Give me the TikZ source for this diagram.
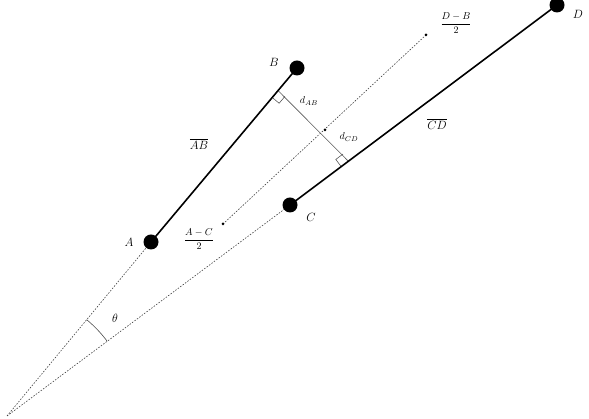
\documentclass[tikz,border=0pt]{standalone}
\usetikzlibrary{calc}
\begin{document}
\begin{tikzpicture}[x=1pt,y=1pt,
  seg/.style={line width=1.6pt,black},
  guide/.style={dash pattern=on 1.5pt off 1.5pt,line width=0.6pt,black!75},
  perp/.style={line width=0.6pt,black!65},
  ramark/.style={line width=0.5pt,black!75},
  bigdot/.style={circle,fill=black,inner sep=0pt,minimum size=15pt},
  smalldot/.style={circle,fill=black,inner sep=0pt,minimum size=3pt},
  lab/.style={font=\large},
  slab/.style={font=\normalsize}]
\useasboundingbox (0,0) rectangle (589,419);
\coordinate (O) at (7,3);
\coordinate (A) at (151,177);
\coordinate (B) at (297,351);
\coordinate (C) at (290,214);
\coordinate (D) at (557,414);
\coordinate (P) at (325,289);
\coordinate (M1) at (223,195);
\coordinate (M2) at (426,384);
\coordinate (F1) at ($(A)!(P)!(B)$);
\coordinate (F2) at ($(C)!(P)!(D)$);
% guides
\draw[guide] (O) -- (A);
\draw[guide] (O) -- (C);
\draw[guide] (M1) -- (M2);
% perpendicular
\draw[perp] (F1) -- (F2);
% right angle marks
\coordinate (a1) at ($(F1)!9pt!(A)$);
\coordinate (p1) at ($(F1)!9pt!(P)$);
\draw[ramark] (a1) -- ($(a1)+(p1)-(F1)$) -- (p1);
\coordinate (a2) at ($(F2)!9pt!(C)$);
\coordinate (p2) at ($(F2)!9pt!(P)$);
\draw[ramark] (a2) -- ($(a2)+(p2)-(F2)$) -- (p2);
% angle arc
\draw[line width=0.6pt,black!70] ($(O)!125pt!(A)$) arc[start angle=50.4,end angle=36.7,radius=125];
% segments
\draw[seg] (A) -- (B);
\draw[seg] (C) -- (D);
% dots
\node[bigdot] (nA) at (A) {};
\node[bigdot] (nB) at (B) {};
\node[bigdot] (nC) at (C) {};
\node[bigdot] (nD) at (D) {};
\node[smalldot] (nP) at (P) {};
\node[smalldot] (nM1) at (M1) {};
\node[smalldot] (nM2) at (M2) {};
% labels
\node[lab] (lA) at (129,177) {$A$};
\node[lab] (lB) at (274,357) {$B$};
\node[lab] (lC) at (311,202) {$C$};
\node[lab] (lD) at (578,405) {$D$};
\node[lab] (lAB) at (199,275) {$\overline{AB}$};
\node[lab] (lCD) at (437,295) {$\overline{CD}$};
\node[slab] (ldab) at (309,318) {$d_{AB}$};
\node[slab] (ldcd) at (349,282) {$d_{CD}$};
\node[slab] (lDB) at (456,396) {$\displaystyle\frac{D-B}{2}$};
\node[slab] (lAC) at (199,180) {$\displaystyle\frac{A-C}{2}$};
\node[lab] (lt) at (115,101) {$\theta$};
\end{tikzpicture}
\end{document}
